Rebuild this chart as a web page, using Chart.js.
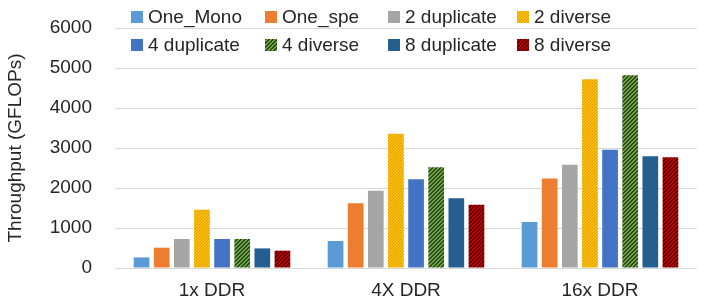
<!DOCTYPE html>
<html lang="en">
<head>
  <title>Throughput</title>
  <style>
    body {
      margin: 0;
      font-family: "Liberation Sans", Arial, sans-serif;
      background: #fff;
    }

    #chart-container {
      position: relative;
      width: 706px;
      height: 304px;
    }

    /* legend drawn as html over the plot, 4 fixed columns */
    #legend {
      position: absolute;
      left: 0;
      top: 0;
      width: 706px;
      height: 60px;
      font-size: 19px;
      color: #262626;
    }

    .leg-item {
      position: absolute;
      display: flex;
      align-items: center;
      white-space: nowrap;
      line-height: 20px;
    }

    .leg-box {
      width: 12px;
      height: 12px;
      margin-right: 5px;
    }
  </style>
  <script src="https://cdn.jsdelivr.net/npm/chart.js"></script>
</head>
<body>
<div id="chart-container">
  <canvas id="barChart"></canvas>
  <div id="legend"></div>
</div>
<script>
// categorie e serie
var categories = ['1x DDR', '4X DDR', '16x DDR'];
var seriesNames = ['One_Mono', 'One_spe', '2 duplicate', '2 diverse',
                   '4 duplicate', '4 diverse', '8 duplicate', '8 diverse'];

var oneMono     = [265, 675, 1150];
var oneSpe      = [508, 1617, 2240];
var twoDup      = [725, 1933, 2583];
var twoDiverse  = [1458, 3358, 4717];
var fourDup     = [725, 2217, 2958];
var fourDiverse = [725, 2517, 4817];
var eightDup    = [490, 1742, 2792];
var eightDiverse = [433, 1583, 2767];

var yTicks = [0, 1000, 2000, 3000, 4000, 5000, 6000];

// piccoli pattern per le barre "diverse"
function makeDots(base, dot) {
  var c = document.createElement('canvas');
  c.width = 3; c.height = 3;
  var g = c.getContext('2d');
  g.fillStyle = base;
  g.fillRect(0, 0, 3, 3);
  g.fillStyle = dot;
  g.fillRect(0, 0, 1, 1);
  g.fillRect(2, 1, 1, 1);
  g.fillRect(1, 2, 1, 1);
  return c;
}

function makeHatch(base, line) {
  var c = document.createElement('canvas');
  c.width = 4; c.height = 4;
  var g = c.getContext('2d');
  g.fillStyle = base;
  g.fillRect(0, 0, 4, 4);
  g.fillStyle = line;
  for (var i = 0; i < 4; i++) {
    g.fillRect((3 - i + 4) % 4, i, 1, 1);
    g.fillRect((4 - i + 4) % 4, i, 1, 1);
  }
  return c;
}

var ctx = document.getElementById('barChart').getContext('2d');

var yellowTile = makeDots('#FFC000', '#D99A10');
var greenTile = makeHatch('#6FA544', '#2B4A1A');
var redTile = makeHatch('#C00000', '#5C0000');

var fills = [
  '#5B9BD5',
  '#ED7D31',
  '#A5A5A5',
  ctx.createPattern(yellowTile, 'repeat'),
  '#4472C4',
  ctx.createPattern(greenTile, 'repeat'),
  '#255E91',
  ctx.createPattern(redTile, 'repeat')
];
var swatches = ['#5B9BD5', '#ED7D31', '#A5A5A5', yellowTile.toDataURL(),
                '#4472C4', greenTile.toDataURL(), '#255E91', redTile.toDataURL()];

var values = [oneMono, oneSpe, twoDup, twoDiverse, fourDup, fourDiverse, eightDup, eightDiverse];

var datasets = [];
for (var i = 0; i < seriesNames.length; i++) {
  datasets.push({
    label: seriesNames[i],
    data: values[i],
    backgroundColor: fills[i],
    borderWidth: 0,
    categoryPercentage: 0.83,
    barPercentage: 0.78
  });
}

Chart.defaults.font.family = '"Liberation Sans", Arial, sans-serif';
Chart.defaults.color = '#262626';

var barChart = new Chart(ctx, {
  type: 'bar',
  data: {
    labels: categories,
    datasets: datasets
  },
  options: {
    responsive: true,
    maintainAspectRatio: false,
    animation: false,
    layout: {
      padding: { top: 28, right: 9, bottom: 0, left: 0 }
    },
    plugins: {
      legend: { display: false },
      tooltip: { enabled: false }
    },
    scales: {
      x: {
        grid: { display: false, drawTicks: false },
        border: { display: false },
        ticks: { font: { size: 19 }, padding: 11 },
        afterFit: function(scale) {
          scale.height = 36;
        }
      },
      y: {
        min: 0,
        max: 6000,
        afterBuildTicks: function(scale) {
          scale.ticks = yTicks.map(function(v) { return { value: v }; });
        },
        afterFit: function(scale) {
          // larghezza fissa, niente spazio extra sopra/sotto
          scale.width = 115;
          scale.paddingTop = 0;
          scale.paddingBottom = 0;
        },
        grid: { color: '#D9D9D9', drawTicks: false, lineWidth: 1 },
        border: { display: false },
        ticks: {
          font: { size: 19 },
          padding: 23,
          callback: function(v) { return String(v); }
        },
        title: {
          display: true,
          text: 'Throughput (GFLOPs)',
          font: { size: 19 },
          padding: { top: 4, bottom: 0 }
        }
      }
    }
  }
});

// legenda html: 2 righe x 4 colonne
var colX = [131, 265, 388, 517];
var rowY = [7, 35];
var legend = document.getElementById('legend');
for (var j = 0; j < seriesNames.length; j++) {
  var item = document.createElement('div');
  item.className = 'leg-item';
  item.style.left = colX[j % 4] + 'px';
  item.style.top = rowY[Math.floor(j / 4)] + 'px';
  var box = document.createElement('span');
  box.className = 'leg-box';
  if (swatches[j].indexOf('data:') === 0) {
    box.style.backgroundImage = 'url(' + swatches[j] + ')';
  } else {
    box.style.backgroundColor = swatches[j];
  }
  item.appendChild(box);
  item.appendChild(document.createTextNode(seriesNames[j]));
  legend.appendChild(item);
}
</script>
</body>
</html>
